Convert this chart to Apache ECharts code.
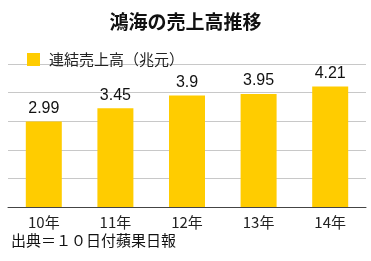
<!DOCTYPE html>
<html><head><meta charset="utf-8">
<script src="https://cdn.jsdelivr.net/npm/echarts@6/dist/echarts.min.js"></script>
<style>html,body{margin:0;padding:0;background:#fff}#c{width:371px;height:261px}</style>
</head><body><div id="c"></div>
<script>
const categories = ['10年','11年','12年','13年','14年'];
const sales = [2.99, 3.45, 3.9, 3.95, 4.21];
const seriesName = '連結売上高（兆元）';
const title = '鴻海の売上高推移';
const source = '出典＝１０日付蘋果日報';
const font = '"Noto Sans CJK JP", sans-serif';
const chart = echarts.init(document.getElementById('c'));
chart.setOption({
  animation: false,
  backgroundColor: '#fff',
  title: {text: title, left: 'center', top: 7, textStyle: {fontFamily: font, fontSize: 19, fontWeight: 'bold', color: '#111'}},
  legend: {data: [seriesName], left: 22, top: 47, itemWidth: 13, itemHeight: 13, itemGap: 8, icon: 'rect',
    textStyle: {fontFamily: font, fontSize: 15, color: '#222', padding: [0,0,0,4]}},
  graphic: [{type: 'text', left: 11, top: 233, style: {text: source, font: '15px ' + font, fill: '#111'}}],
  grid: {left: 8, right: 5, top: 64, bottom: 54, containLabel: false},
  xAxis: {type: 'category', data: categories,
    axisLine: {lineStyle: {color: '#444', width: 1}}, axisTick: {show: false},
    axisLabel: {fontFamily: font, fontSize: 15, color: '#222', margin: 8}},
  yAxis: {type: 'value', min: 0, max: 5, interval: 1, axisLabel: {show: false},
    axisLine: {show: false}, axisTick: {show: false},
    splitLine: {lineStyle: {color: '#c8c8c8', width: 1}}},
  series: [{name: seriesName, type: 'bar', data: sales, barWidth: 36,
    itemStyle: {color: '#FFCC00'},
    label: {show: true, position: 'top', distance: 5, fontFamily: 'Liberation Sans, sans-serif', fontSize: 16, color: '#111'}}]
});
</script></body></html>
